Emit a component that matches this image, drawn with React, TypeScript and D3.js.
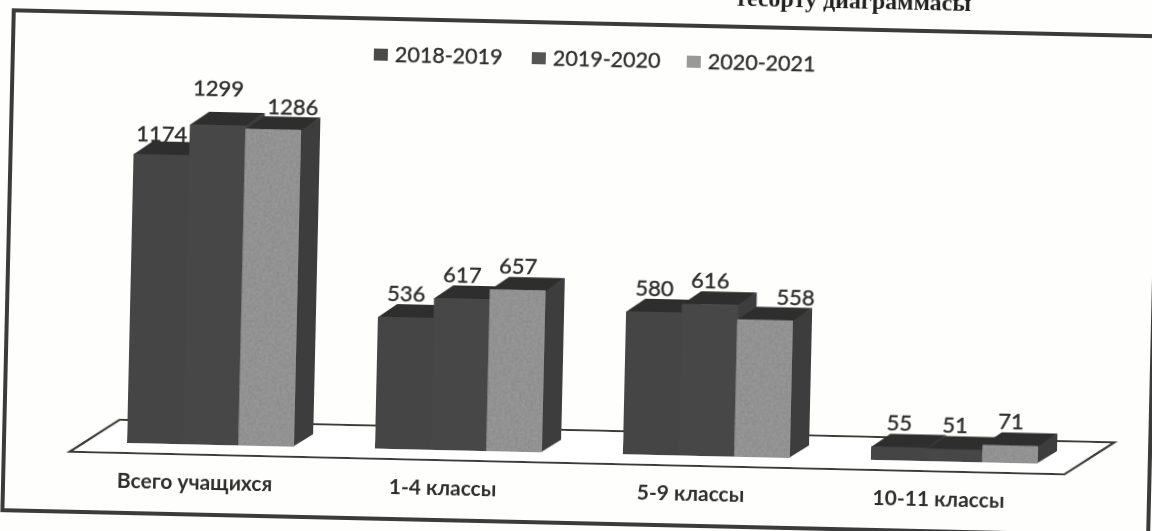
import React from 'react';
import * as d3 from 'd3';

const categories = ['Всего учащихся', '1-4 классы', '5-9 классы', '10-11 классы'];
const years = ['2018-2019', '2019-2020', '2020-2021'];
const values2018 = [1174, 536, 580, 55];
const values2019 = [1299, 617, 616, 51];
const values2020 = [1286, 657, 558, 71];
const seriesValues = [values2018, values2019, values2020];

const width = 1152;
const height = 531;
const tilt = 1.3; // the scan sits a little crooked
const depth = {x: 19, y: -13};
const floorDepth = {x: 49, y: -33};
const baseY = 440;

const frontColors = ['#444444', '#474747', '#8d8d8d'];
const sideColor = '#3e3e3e';
const topColor = '#2f2f2f';
const textColor = '#2e2e2e';

const xGroup = d3.scaleBand<string>().domain(categories).range([96.5, 1088.5]);
const xBar = d3.scaleBand<string>().domain(years).range([0, 167]);
const yValue = d3.scaleLinear().domain([0, 1299]).range([baseY, 120]);
const xLegend = d3.scaleOrdinal<string, number>().domain(years).range([375, 533, 688]);

const poly = (pts: [number, number][]) => d3.line()(pts) + 'Z';

// a few labels were moved by hand in the original
const labelShift = (cat: number, ser: number) => {
  if (cat === 0 && ser === 0) return {x: 0, y: 3};
  if (cat === 0 && ser === 1) return {x: 0, y: -13};
  if (cat === 0 && ser === 2) return {x: 19, y: 1};
  if (cat === 2 && ser === 2) return {x: 30, y: 0};
  return {x: 0, y: 0};
};

export default function App() {
  const groupWidth = xBar.range()[1];
  const groupInset = (xGroup.bandwidth() - groupWidth) / 2;
  const barW = xBar.bandwidth();

  const bars = categories.flatMap((cat, c) =>
    years.map((year, s) => {
      const x0 = (xGroup(cat) as number) + groupInset + (xBar(year) as number);
      const x1 = x0 + barW;
      const top = yValue(seriesValues[s][c]);
      return {key: cat + year, c, s, x0, x1, top, value: seriesValues[s][c]};
    }),
  );

  const floorX0 = 80;
  const floorX1 = 1075;
  const floorY = 450;

  return (
    <svg
      width={width}
      height={height}
      style={{position: 'absolute', left: 0, top: 0, background: '#fefefd'}}
    >
      <defs>
        <filter id="scan" x="-2%" y="-5%" width="104%" height="110%">
          <feGaussianBlur stdDeviation="0.7" />
        </filter>
        <filter id="grain" x="0" y="0" width="100%" height="100%">
          <feTurbulence type="fractalNoise" baseFrequency="0.35" numOctaves="2" seed="4" result="n" />
          <feColorMatrix
            in="n"
            type="matrix"
            values="0 0 0 0 0.36  0 0 0 0 0.36  0 0 0 0 0.36  0.9 0 0 0 -0.22"
            result="d"
          />
          <feComposite in="d" in2="SourceGraphic" operator="in" result="speck" />
          <feMerge>
            <feMergeNode in="SourceGraphic" />
            <feMergeNode in="speck" />
          </feMerge>
        </filter>
      </defs>
      <g filter="url(#scan)" transform={`rotate(${tilt})`}>
        <rect x={14} y={10} width={1146} height={500} fill="none" stroke="#3a3a3a" strokeWidth={4} />

        <text
          x={853}
          y={-11}
          textAnchor="middle"
          fontFamily="'Liberation Serif', serif"
          fontWeight="bold"
          fontSize={24}
          fill="#222"
        >
          тесорту диаграммасы
        </text>

        {years.map((year, i) => (
          <g key={year}>
            <rect
              x={xLegend(year)}
              y={40}
              width={14}
              height={12}
              fill={i === 2 ? '#999' : i === 0 ? '#4a4a4a' : '#555'}
            />
            <text
              x={(xLegend(year) as number) + 21}
              y={53}
              fontFamily="Lato, sans-serif"
              fontSize={21.5}
              stroke={textColor}
              strokeWidth={0.35}
              fill={textColor}
            >
              {year}
            </text>
          </g>
        ))}

        <path
          d={poly([
            [floorX0, floorY],
            [floorX1, floorY],
            [floorX1 + floorDepth.x, floorY + floorDepth.y],
            [floorX0 + floorDepth.x, floorY + floorDepth.y],
          ])}
          fill="#fff"
          stroke="#3a3a3a"
          strokeWidth={2.2}
        />

        {bars.map(b => (
          <g key={b.key}>
            <path
              d={poly([
                [b.x1 - 1, b.top],
                [b.x1 + depth.x, b.top + depth.y],
                [b.x1 + depth.x, baseY + depth.y],
                [b.x1 - 1, baseY],
              ])}
              fill={sideColor}
            />
            <path
              d={poly([
                [b.x0, b.top + 0.5],
                [b.x0 + depth.x, b.top + depth.y],
                [b.x1 + depth.x, b.top + depth.y],
                [b.x1, b.top + 0.5],
              ])}
              fill={topColor}
            />
            <rect
              x={b.x0}
              y={b.top}
              width={b.x1 - b.x0 + (b.s < 2 ? 1 : 0)}
              height={baseY - b.top}
              fill={frontColors[b.s]}
              filter={b.s === 2 ? 'url(#grain)' : undefined}
            />
          </g>
        ))}

        {bars.map(b => {
          const shift = labelShift(b.c, b.s);
          return (
            <text
              key={b.key}
              x={(b.x0 + b.x1) / 2 + shift.x}
              y={b.top - 16 + shift.y}
              textAnchor="middle"
              fontFamily="Lato, sans-serif"
              fontSize={22}
              stroke={textColor}
              strokeWidth={0.4}
              fill={textColor}
            >
              {b.value}
            </text>
          );
        })}

        {categories.map(cat => (
          <text
            key={cat}
            x={(xGroup(cat) as number) + xGroup.bandwidth() / 2 - 15}
            y={485}
            textAnchor="middle"
            fontFamily="Lato, sans-serif"
            fontSize={21}
            fontWeight={700}
            fill={textColor}
          >
            {cat}
          </text>
        ))}
      </g>
    </svg>
  );
}
